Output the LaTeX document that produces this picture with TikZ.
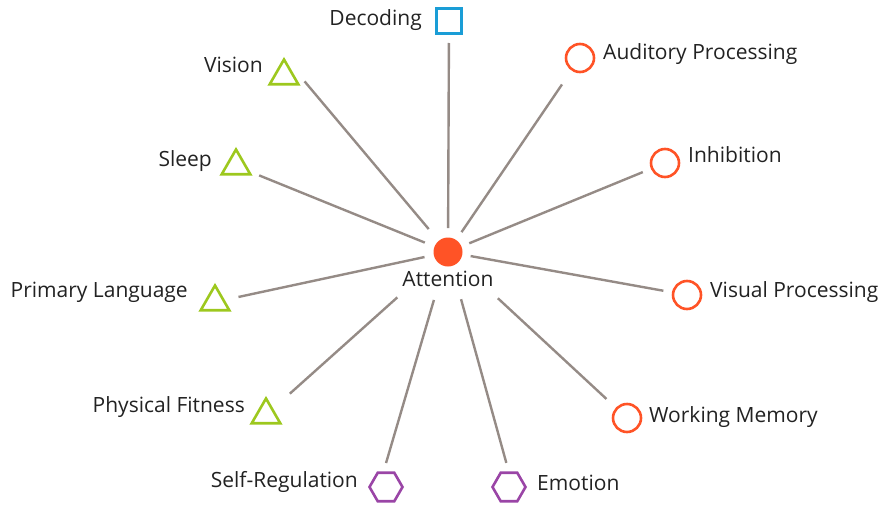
\documentclass[tikz,border=0pt]{standalone}
\usepackage{fontspec}
\setmainfont{Open Sans}
\usetikzlibrary{shapes.geometric}
\definecolor{linkgray}{HTML}{958B86}
\definecolor{hubred}{HTML}{FF5326}
\definecolor{leafgreen}{HTML}{9DC81E}
\definecolor{skyblue}{HTML}{1A9DD6}
\definecolor{hexpurple}{HTML}{9A45A6}
\definecolor{inkdark}{HTML}{222222}
\tikzset{
    link/.style={draw=linkgray, line width=2.4pt},
    ring/.style={circle, draw=hubred, line width=2.6pt, minimum size=28pt, inner sep=0pt},
    tri/.style={regular polygon, regular polygon sides=3, draw=leafgreen, line width=2.6pt, minimum size=33pt, inner sep=0pt},
    hexa/.style={regular polygon, regular polygon sides=6, draw=hexpurple, line width=2.6pt, minimum size=33pt, inner sep=0pt},
    sq/.style={rectangle, draw=skyblue, line width=2.6pt, minimum size=25.5pt, inner sep=0pt},
    lbl/.style={font=\fontsize{21}{25}\selectfont, text=inkdark, inner sep=0pt}
}
\begin{document}
\begin{tikzpicture}[x=1pt, y=-1pt]
            \useasboundingbox (0,0) rectangle (883,506);
            % hub
            \node[circle, fill=hubred, minimum size=29pt, inner sep=0pt] (hub) at (448,252) {};
            \node[lbl, anchor=base] (hubT) at (448,286) {Attention};
            % shapes
            \node[sq] (dec) at (449,21) {};
            \node[tri] (vis) at (284,76) {};
            \node[tri] (slp) at (236,166) {};
            \node[tri] (lang) at (215,302) {};
            \node[tri] (fit) at (266,415) {};
            \node[hexa] (reg) at (386,487) {};
            \node[hexa] (emo) at (509,487) {};
            \node[ring] (aud) at (580,58) {};
            \node[ring] (inh) at (665,163) {};
            \node[ring] (vp) at (687,295) {};
            \node[ring] (wm) at (627,418) {};
            % labels
            \node[lbl, anchor=base east] (decT) at (422,25) {Decoding};
            \node[lbl, anchor=base east] (visT) at (263,72) {Vision};
            \node[lbl, anchor=base east] (slpT) at (212,166) {Sleep};
            \node[lbl, anchor=base east] (langT) at (188,297) {Primary Language};
            \node[lbl, anchor=base east] (fitT) at (245,412) {Physical Fitness};
            \node[lbl, anchor=base east] (regT) at (358,487) {Self-Regulation};
            \node[lbl, anchor=base west] (emoT) at (537,490) {Emotion};
            \node[lbl, anchor=base west] (audT) at (603,59) {Auditory Processing};
            \node[lbl, anchor=base west] (inhT) at (688,162) {Inhibition};
            \node[lbl, anchor=base west] (vpT) at (710,297) {Visual Processing};
            \node[lbl, anchor=base west] (wmT) at (649,422) {Working Memory};
            % spoke ends for the two hexagons
            \coordinate (regAim) at ([xshift=-7pt]reg.center);
            \coordinate (emoAim) at ([xshift=4pt]emo.center);
            % spokes
            \foreach \t/\a/\b in {dec.center/24/22, vis.north/30/32, slp.center/25/25, lang.center/24/24,
                                  fit.center/68/32, regAim/50/25, emoAim/49/25, aud.center/24/32,
                                  inh.center/23/24, vp.center/23/24, wm.center/68/28}{
                \draw[link, shorten <=\a pt, shorten >=\b pt] (hub.center)--(\t);
            }
        \end{tikzpicture}
\end{document}
